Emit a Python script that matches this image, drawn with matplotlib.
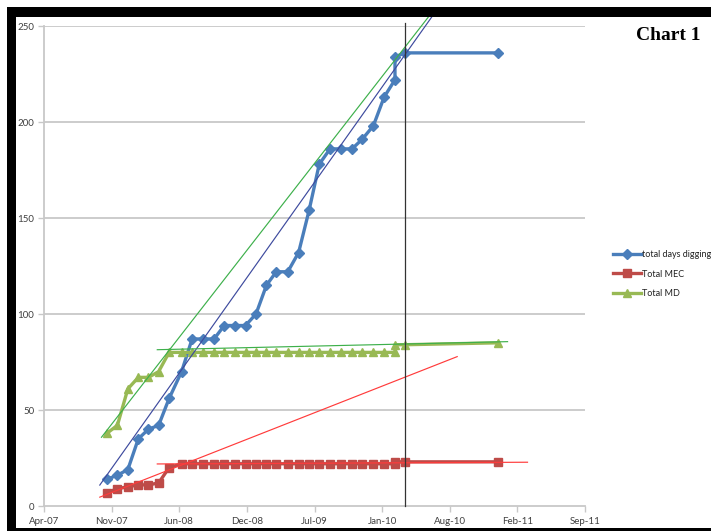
import matplotlib
matplotlib.use("Agg")
import matplotlib.pyplot as plt
from matplotlib.patches import Rectangle
import pandas as pd

# ---- data -------------------------------------------------------------
dates = pd.to_datetime([
    "2007-11-01", "2007-12-01", "2008-01-01", "2008-02-01", "2008-03-02",
    "2008-04-01", "2008-05-02", "2008-06-08", "2008-07-09", "2008-08-11",
    "2008-09-12", "2008-10-12", "2008-11-13", "2008-12-14", "2009-01-14",
    "2009-02-14", "2009-03-15", "2009-04-18", "2009-05-20", "2009-06-20",
    "2009-07-20", "2009-08-21", "2009-09-22", "2009-10-25", "2009-11-24",
    "2009-12-27", "2010-01-28", "2010-03-01", "2010-03-01", "2010-04-01",
    "2011-01-01",
])
days_digging = [14, 16, 19, 35, 40, 42, 56, 70, 87, 87,
                87, 94, 94, 94, 100, 115, 122, 122, 132, 154,
                178, 186, 186, 186, 191, 198, 213, 222, 234, 236,
                236]
total_mec = [7, 9, 10, 11, 11, 12, 20, 22, 22, 22,
             22, 22, 22, 22, 22, 22, 22, 22, 22, 22,
             22, 22, 22, 22, 22, 22, 22, 22, 23, 23,
             23]
total_md = [38, 42, 61, 67, 67, 70, 80, 80, 80, 80,
            80, 80, 80, 80, 80, 80, 80, 80, 80, 80,
            80, 80, 80, 80, 80, 80, 80, 80, 84, 84,
            85]
series_labels = ["total days digging", "Total MEC", "Total MD"]

# straight guide lines: (start/end dates, start/end values)
trend_digging = (["2007-10-10", "2010-06-27"], [10.9, 257.0])
trend_md_rise = (["2007-10-15", "2010-06-18"], [35.8, 257.0])
trend_mec_rise = (["2007-10-10", "2010-09-01"], [4.6, 77.8])
trend_mec_flat = (["2008-03-28", "2011-03-28"], [21.9, 22.8])
trend_md_flat = (["2008-03-28", "2011-01-28"], [81.4, 85.6])
marker_date = "2010-04-01"
marker_span = [0, 251.5]

x_tick_dates = pd.to_datetime([
    "2007-04-28", "2007-11-14", "2008-06-01", "2008-12-18", "2009-07-06",
    "2010-01-22", "2010-08-10", "2011-02-26", "2011-09-14",
])
x_tick_labels = ["Apr-07", "Nov-07", "Jun-08", "Dec-08", "Jul-09",
                 "Jan-10", "Aug-10", "Feb-11", "Sep-11"]
y_ticks = [0, 50, 100, 150, 200, 250]

# ---- styling ----------------------------------------------------------
BLUE = "#4A7EBB"
RED = "#BE4B48"
GREEN = "#98B954"
GRID = "#C8C8C8"
TEXT = "#404040"
plt.rcParams["font.family"] = ["Lato", "DejaVu Sans"]

W, H = 711, 531
fig = plt.figure(figsize=(W / 100, H / 100), dpi=100)
fig.patch.set_facecolor("white")
ax = fig.add_axes([44 / W, 1 - 506 / H, (585 - 44) / W, (506 - 26) / H])

ax.set_xlim(x_tick_dates[0], x_tick_dates[-1])
ax.set_ylim(y_ticks[0], y_ticks[-1])

for y in y_ticks[1:]:
    ax.axhline(y, color=GRID, lw=1.3, zorder=0)

l1, = ax.plot(dates, days_digging, color=BLUE, lw=2.4, marker="D", ms=5.0,
              mfc=BLUE, mec=BLUE, zorder=3, clip_on=False)
l2, = ax.plot(dates, total_mec, color=RED, lw=2.4, marker="s", ms=6.0,
              mfc=RED, mec=RED, zorder=3, clip_on=False)
l3, = ax.plot(dates, total_md, color=GREEN, lw=2.4, marker="^", ms=6.2,
              mfc=GREEN, mec=GREEN, zorder=3, clip_on=False)

for (d, v), c in [(trend_digging, "#3D4A9E"), (trend_md_rise, "#3DB04B"),
                  (trend_mec_rise, "#FF3B3B"), (trend_mec_flat, "#FF3B3B"),
                  (trend_md_flat, "#3DB04B")]:
    ax.plot(pd.to_datetime(d), v, color=c, lw=0.85, zorder=4, clip_on=False)

ax.plot(pd.to_datetime([marker_date, marker_date]), marker_span,
        color="#333333", lw=0.9, zorder=5, clip_on=False)

ax.set_xticks(x_tick_dates)
ax.set_xticklabels(x_tick_labels)
ax.set_yticks(y_ticks)
ax.set_yticklabels([str(v) for v in y_ticks])
ax.tick_params(axis="both", colors=GRID, labelcolor=TEXT, labelsize=7.0,
               length=4, width=1.0, direction="out")
ax.tick_params(axis="x", pad=4)
ax.tick_params(axis="y", pad=3)

for s in ["top", "right"]:
    ax.spines[s].set_visible(False)
for s in ["left", "bottom"]:
    ax.spines[s].set_color(GRID)
    ax.spines[s].set_linewidth(1.3)

fig.legend([l1, l2, l3], series_labels, loc="upper left",
           bbox_to_anchor=(613 / W, 1 - 250.5 / H), frameon=False,
           borderpad=0, borderaxespad=0, handlelength=3.1,
           handletextpad=0.1, labelspacing=1.12, fontsize=6.5,
           labelcolor="#222222")

fig.text(700 / W, 1 - 35 / H, "Chart 1", ha="right", va="center",
         fontsize=14, fontweight="bold", family="Liberation Serif",
         color="black")

# heavy black frame along the top, left and bottom edges
for x0, y0, w, h in [(7, 7, W - 7, 10), (7, 7, 9, H - 7), (7, 528, W - 7, 3)]:
    fig.add_artist(Rectangle((x0 / W, 1 - (y0 + h) / H), w / W, h / H,
                             transform=fig.transFigure, facecolor="black",
                             edgecolor="none", zorder=20))

fig.savefig("out.png", dpi=100)
